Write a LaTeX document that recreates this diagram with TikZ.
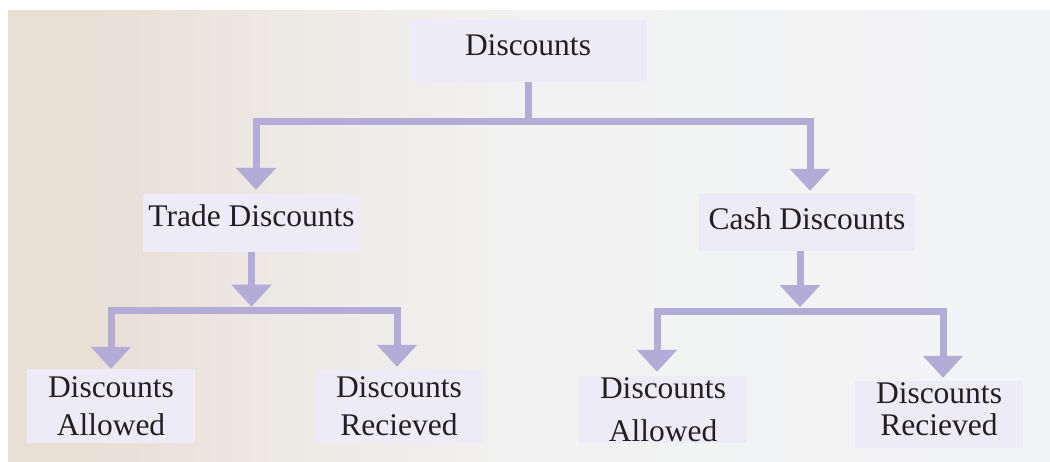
\documentclass[tikz,border=0pt]{standalone}
\usepackage{fontspec}
\setmainfont{Liberation Serif}
\usetikzlibrary{arrows.meta}
\definecolor{bgA}{RGB}{232,223,213}
\definecolor{bgB}{RGB}{237,233,228}
\definecolor{bgC}{RGB}{242,242,242}
\definecolor{bgD}{RGB}{243,244,246}
\definecolor{boxfill}{RGB}{238,235,248}
\definecolor{arrowc}{RGB}{178,172,214}
\definecolor{txt}{RGB}{35,31,32}
\pgfdeclarehorizontalshading{bgshade}{100bp}{color(0bp)=(bgA); color(25bp)=(bgA); color(29bp)=(bgA); color(38bp)=(bgB); color(50bp)=(bgC); color(75bp)=(bgD); color(100bp)=(bgD)}
\tikzset{
  box/.style={fill=boxfill, text=txt, inner sep=0pt, align=center,
    font=\fontsize{31.5}{38}\selectfont},
  conn/.style={draw=arrowc, line width=7pt, line join=miter},
  arr/.style={conn, -{Triangle[width=39pt,length=22pt]}, arrowc}
}
\begin{document}
\begin{tikzpicture}[x=1pt,y=-1pt]
\useasboundingbox (0,0) rectangle (1050,461);
\fill[shading=bgshade] (8,10) rectangle (1050,461);

\node[box, minimum width=238pt, minimum height=62pt, text depth=12pt] (disc) at (528,51) {Discounts};
\node[box, minimum width=217pt, minimum height=58pt, text depth=14pt] (trade) at (251.5,223) {Trade Discounts};
\node[box, minimum width=216pt, minimum height=58pt, text depth=7pt] (cash) at (807,222) {Cash Discounts};

\node[box, minimum width=168pt, minimum height=74pt] (la) at (111,406) {Discounts\\Allowed};
\node[box, minimum width=168pt, minimum height=73pt] (lr) at (399,406.5) {Discounts\\Recieved};
\node[box, minimum width=168pt, minimum height=67pt] (ra) at (663,409.5) {Discounts\\[5pt]Allowed};
\node[box, minimum width=168pt, minimum height=67pt, text depth=10pt] (rr) at (939,414.5) {Discounts\\[-6pt]Recieved};

\coordinate (j0) at ([yshift=-39pt]disc.south);
\draw[conn] (disc.south) -- (j0);
\draw[arr] (j0) -| ([xshift=4.5pt,yshift=4pt]trade.north);
\draw[arr] (j0) -| ([xshift=3pt,yshift=2pt]cash.north);

\coordinate (jt) at ([yshift=-58pt]trade.south);
\draw[arr] (trade.south) -- ([yshift=3.5pt]jt);
\draw[arr] (jt) -| (la.north);
\draw[arr] (jt) -| ([xshift=-2pt,yshift=3pt]lr.north);

\coordinate (jc) at ([xshift=-7pt,yshift=-60pt]cash.south);
\draw[arr] ([xshift=-7pt]cash.south) -- ([yshift=4pt]jc);
\draw[arr] (jc) -| ([xshift=-6pt,yshift=4pt]ra.north);
\draw[arr] (jc) -| ([xshift=4pt,yshift=3pt]rr.north);
\end{tikzpicture}
\end{document}
